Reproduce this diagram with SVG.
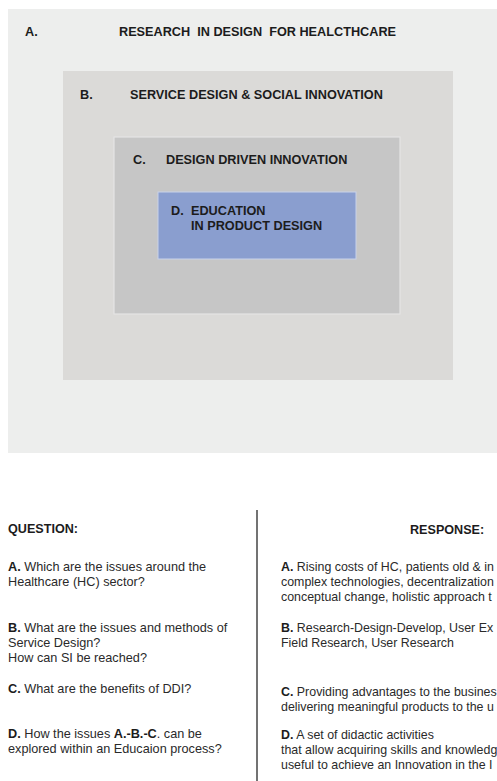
<svg xmlns="http://www.w3.org/2000/svg" width="497" height="781" viewBox="0 0 497 781">
<style>
text{font-family:"Liberation Sans",Arial,Helvetica,sans-serif;fill:#1c1c1c}
.t{font-size:12.7px;font-weight:bold}
.b{font-size:12.4px;fill:#2a2a2a}
.q{font-size:12.7px;fill:#2a2a2a}
.h{font-size:12.6px;font-weight:bold}
.k{font-weight:bold;fill:#1c1c1c}
</style>
<rect width="497" height="781" fill="#ffffff"/>
<g id="nodeA">
<rect x="8" y="9" width="489" height="444" fill="#edeeed"/>
<text class="t" x="25" y="36">A.</text>
<text class="t" x="119" y="36" xml:space="preserve">RESEARCH  IN DESIGN  FOR HEALCTHCARE</text>
</g>
<g id="nodeB">
<rect x="63" y="71" width="390" height="309" fill="#dbdad8"/>
<text class="t" x="80" y="99">B.</text>
<text class="t" x="130" y="99">SERVICE DESIGN &amp; SOCIAL INNOVATION</text>
</g>
<g id="nodeC">
<rect x="114" y="137" width="286" height="177" fill="#c6c6c6" stroke="#e4e4e4" stroke-width="1.2"/>
<text class="t" x="133" y="164">C.</text>
<text class="t" x="166" y="164">DESIGN DRIVEN INNOVATION</text>
</g>
<g id="nodeD">
<rect x="158" y="192" width="198" height="67" fill="#8a9ecf" stroke="#c8d2ea" stroke-width="1"/>
<text class="t" x="171" y="215">D.</text>
<text class="t" x="191" y="215">EDUCATION</text>
<text class="t" x="191" y="230">IN PRODUCT DESIGN</text>
</g>
<g id="connectors">
<line x1="257" y1="510" x2="257" y2="781" stroke="#444" stroke-width="1.5"/>
</g>
<g id="questions">
<text class="h" x="8" y="533">QUESTION:</text>
<text class="q" x="8" y="571"><tspan class="k">A.</tspan> Which are the issues around the</text>
<text class="q" x="8" y="586">Healthcare (HC) sector?</text>
<text class="q" x="8" y="632"><tspan class="k">B.</tspan> What are the issues and methods of</text>
<text class="q" x="8" y="647">Service Design?</text>
<text class="q" x="8" y="662">How can SI be reached?</text>
<text class="q" x="8" y="693"><tspan class="k">C.</tspan> What are the benefits of DDI?</text>
<text class="q" x="8" y="738"><tspan class="k">D.</tspan> How the issues <tspan class="k">A.-B.-C</tspan>. can be</text>
<text class="q" x="8" y="753">explored within an Educaion process?</text>
</g>
<g id="responses">
<text class="h" x="410" y="534">RESPONSE:</text>
<text class="b" x="281" y="571"><tspan class="k">A.</tspan> Rising costs of HC, patients old &amp; in</text>
<text class="b" x="281" y="586">complex technologies, decentralization</text>
<text class="b" x="281" y="601">conceptual change, holistic approach t</text>
<text class="b" x="281" y="632"><tspan class="k">B.</tspan> Research-Design-Develop, User Ex</text>
<text class="b" x="281" y="647">Field Research, User Research</text>
<text class="b" x="281" y="696"><tspan class="k">C.</tspan> Providing advantages to the busines</text>
<text class="b" x="281" y="711">delivering meaningful products to the u</text>
<text class="b" x="281" y="739"><tspan class="k">D.</tspan> A set of didactic activities</text>
<text class="b" x="281" y="754">that allow acquiring skills and knowledg</text>
<text class="b" x="281" y="769">useful to achieve an Innovation in the I</text>
</g>
</svg>
